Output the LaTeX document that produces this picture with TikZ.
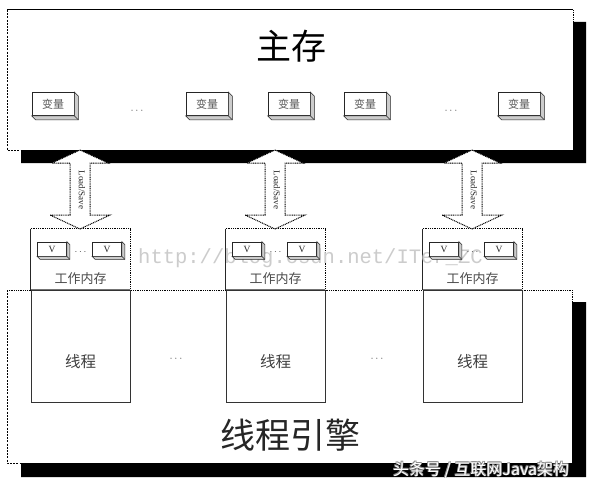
\documentclass[tikz,border=0pt]{standalone}
\usepackage{fontspec}
\setmainfont{Liberation Serif}
\newfontfamily\cjk{Noto Sans CJK SC}
\newfontfamily\monowm{Liberation Mono}
\usetikzlibrary{calc}
\tikzset{
  varbox/.style={draw=black!85, line width=0.7pt, fill=white, minimum width=42pt, minimum height=23pt, inner sep=0pt, font=\cjk\fontsize{11}{11}\selectfont, text=black!65},
  vbox/.style={draw=black!85, line width=0.7pt, fill=white, minimum width=29pt, minimum height=14pt, inner sep=0pt, font=\fontsize{9.5}{9.5}\selectfont, text=black!85},
  sidefill/.style={fill=black!20, draw=black!85, line width=0.6pt},
  blockarrow/.style={fill=white, draw=black, line width=1pt, dash pattern=on 1pt off 0.8pt},
  shadowfill/.style={fill=black},
  dashedge/.style={draw=black, line width=1pt, dash pattern=on 2pt off 1.2pt},
  dotedge/.style={draw=black, line width=1pt, dash pattern=on 1pt off 0.8pt},
  dots/.style={font=\fontsize{11}{11}\selectfont, text=black!65},
}
\newcommand\boxside[2]{%
  \filldraw[sidefill] (#1.north east) -- ($(#1.north east)+(#2,#2)$) -- ($(#1.south east)+(#2,#2)$) -- ($(#1.south west)+(#2,#2)$) -- (#1.south west) -- (#1.south east) -- cycle;
  \draw[sidefill] (#1.south east) -- ($(#1.south east)+(#2,#2)$);}
\begin{document}
\begin{tikzpicture}[x=1pt,y=-1pt]
\useasboundingbox[fill=white] (0,0) rectangle (593,484);

% ---------- main memory ----------
\fill[shadowfill] (573,22) -- (586,22) -- (586,163) -- (21,163) -- (21,150) -- (573,150) -- cycle;
\fill[white] (7,10) rectangle (573,150);
\draw[line width=1pt] (7,10) -- (573,10);
\draw[dashedge] (7,10) -- (7,150) -- (21,150);
\draw[dotedge] (573,10) -- (573,22);
\node[font=\cjk\fontsize{35}{35}\selectfont] (mainttl) at (291,46) {主存};

\foreach \x/\n in {53/v1,207/v2,289/v3,365/v4,519/v5}{
  \node[varbox] (\n) at (\x,104) {变量};
  \boxside{\n}{4}
}
\node[dots] (md1) at (137,111) {$\cdots$};
\node[dots] (md2) at (451,111) {$\cdots$};

% ---------- engine ----------
\fill[shadowfill] (572,302) -- (586,302) -- (586,477) -- (21,477) -- (21,463) -- (572,463) -- cycle;
\fill[white] (7,290) rectangle (572,463);
\draw[dotedge] (7,290) -- (572,290) -- (572,302);
\draw[dashedge] (7,290) -- (7,463) -- (21,463);
\node[font=\cjk\fontsize{35}{35}\selectfont, text=black!85] (engttl) at (290,435) {线程引擎};

% ---------- threads and working memories ----------
\foreach \cx/\i in {80.5/1,275.5/2,472.5/3}{
  % working memory box
  \node[fill=white, minimum width=99pt, minimum height=61pt, inner sep=0pt] (wm\i) at (\cx,259.5) {};
  \draw[dotedge] (wm\i.north west) -- (wm\i.north east) -- (wm\i.south east);
  \draw[line width=0.8pt, black!85] (wm\i.north west) -- (wm\i.south west);
  % thread box
  \node[draw=black!80, line width=0.8pt, fill=white, minimum width=99pt, minimum height=112pt, inner sep=0pt] (th\i) at (\cx,346) {};
  \draw[black!55, line width=1.6pt] (th\i.north west) -- (th\i.north east);
  \node[font=\cjk\fontsize{15.5}{15.5}\selectfont, text=black!75] (tht\i) at (\cx,362) {线程};
  \node[font=\cjk\fontsize{13}{13}\selectfont, text=black!70] (wmt\i) at (\cx,279) {工作内存};
  % Load/Save arrow
  \coordinate (ac\i) at (\cx-0.5,0);
  \filldraw[blockarrow] ($(ac\i)+(0,150)$) -- ($(ac\i)+(28,163)$) -- ($(ac\i)+(10,163)$) -- ($(ac\i)+(10,215)$) -- ($(ac\i)+(30,215)$) -- ($(ac\i)+(0,229)$) -- ($(ac\i)+(-30,215)$) -- ($(ac\i)+(-10,215)$) -- ($(ac\i)+(-10,163)$) -- ($(ac\i)+(-28,163)$) -- cycle;
  \node[rotate=-90, font=\fontsize{9}{9}\selectfont, text=black!85, inner sep=0pt] (ls\i) at ($(ac\i)+(2,190)$) {Load/Save};
}
\node[dots] (td1) at (176,359) {$\cdots$};
\node[dots] (td2) at (377,359) {$\cdots$};

% CSDN watermark
\node[anchor=west, font=\monowm\fontsize{20.5}{20.5}\selectfont, text=black!20, inner sep=0pt] (csdn) at (138,258) {http://blog.csdn.net/ITer\_ZC};

% V boxes
\foreach \cx/\i in {80.5/1,275.5/2,472.5/3}{
  \node[vbox] (va\i) at (\cx-28.5,249) {V};
  \boxside{va\i}{3}
  \node[vbox] (vb\i) at (\cx+26.5,249) {V};
  \boxside{vb\i}{3}
  \node[font=\fontsize{10}{10}\selectfont, text=black!70] (vd\i) at (\cx,252) {$\cdots$};
}

% bottom watermark
\foreach \dx/\dy/\k in {0.6/0.6/a,-0.6/-0.6/b,0.6/-0.6/c,-0.6/0.6/d}{
  \node[font=\cjk\fontsize{16}{16}\selectfont, text=black!45] (tt\k) at (481+\dx,470+\dy) {头条号 / 互联网Java架构};
}
\node[font=\cjk\fontsize{16}{16}\selectfont, text=white] (ttw) at (481,470) {头条号 / 互联网Java架构};
\end{tikzpicture}
\end{document}
